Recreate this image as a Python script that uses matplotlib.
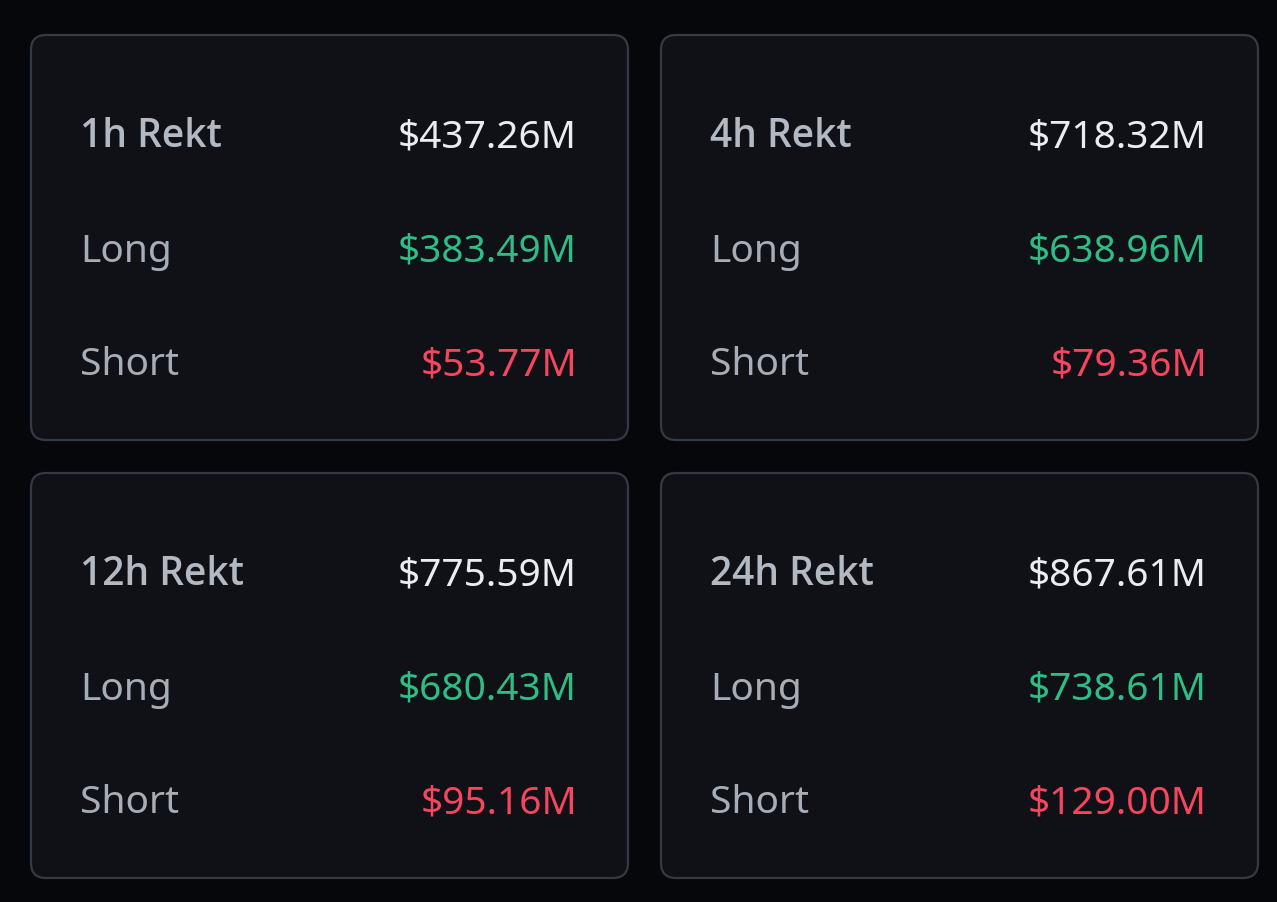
import matplotlib
matplotlib.use("Agg")
import matplotlib.pyplot as plt
from matplotlib.patches import FancyBboxPatch
from matplotlib import font_manager as fm

periods = ["1h", "4h", "12h", "24h"]
total = [437.26, 718.32, 775.59, 867.61]
longs = [383.49, 638.96, 680.43, 738.61]
shorts = [53.77, 79.36, 95.16, 129.00]
row_labels = ["Rekt", "Long", "Short"]

W, H = 1277, 902
fig = plt.figure(figsize=(W / 100, H / 100), dpi=100)
fig.patch.set_facecolor("#05070b")
ax = fig.add_axes([0, 0, 1, 1])
ax.set_xlim(0, W)
ax.set_ylim(H, 0)
ax.axis("off")
ax.set_facecolor("#05070b")

font = "Noto Sans"
title_font = "Open Sans"
title_weight = "semibold"
names = {(f.name, f.weight) for f in fm.fontManager.ttflist}
if not any(n == "Open Sans" and (w in (600, "semibold", "demibold")) for n, w in names):
    title_weight = "bold"
fs = 28
card_x = [31, 661]
card_y = [35, 473]
cw, ch = 597, 405
row_off = [102, 217, 330]

for i, p in enumerate(periods):
    cx = card_x[i % 2]
    cy = card_y[i // 2]
    box = FancyBboxPatch((cx + 15, cy + 15), cw - 30, ch - 30,
                         boxstyle="round,pad=15", fc="#0f1117", ec="#343a43", lw=1.6)
    ax.add_patch(box)
    lx = cx + 49
    rx = cx + 546
    ax.text(lx, cy + row_off[0], f"{p} {row_labels[0]}", color="#b3b9c2", fontsize=28,
            fontweight=title_weight, family=title_font, ha="left", va="center")
    ax.text(rx, cy + row_off[0], f"${total[i]:.2f}M", color="#eaecef", fontsize=fs,
            family=font, ha="right", va="center")
    ax.text(lx, cy + row_off[1], row_labels[1], color="#a7adb6", fontsize=fs,
            family=font, ha="left", va="center")
    ax.text(rx, cy + row_off[1], f"${longs[i]:.2f}M", color="#2ebd85", fontsize=fs,
            family=font, ha="right", va="center")
    ax.text(lx, cy + row_off[2], row_labels[2], color="#a7adb6", fontsize=fs,
            family=font, ha="left", va="center")
    ax.text(rx, cy + row_off[2], f"${shorts[i]:.2f}M", color="#f6465d", fontsize=fs,
            family=font, ha="right", va="center")

fig.savefig("out.png", dpi=100, facecolor=fig.get_facecolor())
